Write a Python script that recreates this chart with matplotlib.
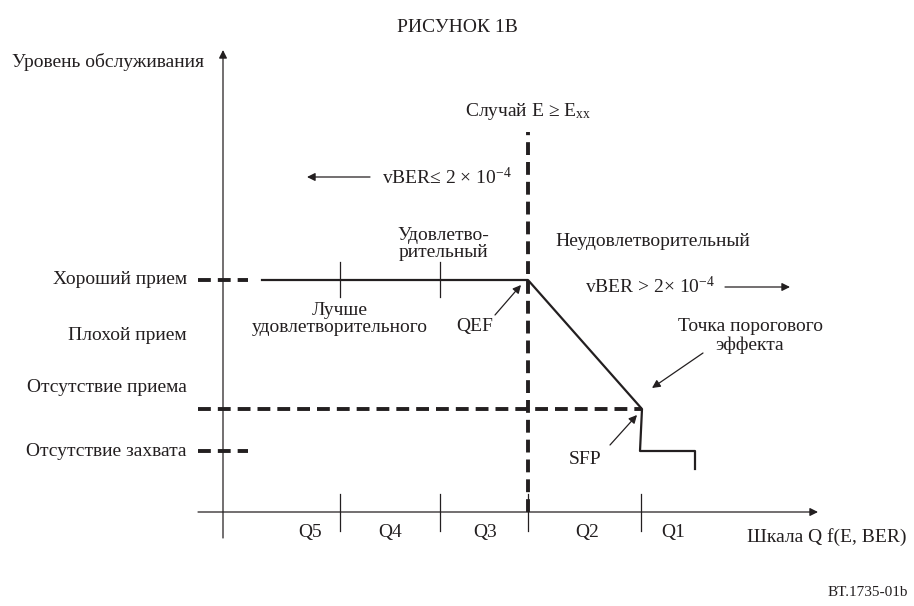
import matplotlib
matplotlib.use("Agg")
import matplotlib.pyplot as plt

plt.rcParams['font.family'] = ['Liberation Serif', 'DejaVu Serif']
plt.rcParams['mathtext.fontset'] = 'custom'
plt.rcParams['mathtext.rm'] = 'Liberation Serif'
plt.rcParams['mathtext.it'] = 'Liberation Serif:italic'

INK = '#231f20'
FS = 14

# ---------------- Data ----------------
# service levels (left labels) and their vertical positions
level_names = ["Хороший прием", "Плохой прием", "Отсутствие приема", "Отсутствие захвата"]
level_y = [232, 177, 124, 61]

# Q scale zones along the horizontal axis
q_names = ["Q5", "Q4", "Q3", "Q2", "Q1"]
q_bounds = [0, 117, 217, 305, 418]
q_label_x = [87, 167, 262, 364, 450]

# service curve: flat at good level, falls to SFP, then step to no-capture
curve_x = [39, 305, 419, 417, 472, 472]
curve_y = [232, 232, 103, 61, 61, 43]

good_y = 232
no_rx_y = 103
no_lock_y = 61
qef_x = 305

# ---------------- Figure ----------------
fig = plt.figure(figsize=(9.14, 6.06), dpi=100)
ax = fig.add_axes([0, 0, 1, 1])
ax.set_xlim(-223, 691)
ax.set_ylim(-94, 512)
ax.axis('off')

arrow = dict(arrowstyle='-|>', color=INK, lw=0.9, mutation_scale=12,
             shrinkA=0, shrinkB=0)

# axes with arrows
ax.annotate("", xy=(0, 462), xytext=(0, -26), arrowprops=arrow)
ax.annotate("", xy=(595, 0), xytext=(-25, 0), arrowprops=arrow)

# Q zone ticks and labels
for b in q_bounds[1:]:
    ax.plot([b, b], [18, -19], color=INK, lw=0.9)
for name, x in zip(q_names, q_label_x):
    ax.text(x, -21, name, fontsize=FS, color=INK, ha='center', va='center')

# dashed reference lines
dash = (0, (3.3, 1.8))
ax.plot([-25, 25], [good_y, good_y], color=INK, lw=2.8, linestyle=dash)
ax.plot([-25, 25], [no_lock_y, no_lock_y], color=INK, lw=2.8, linestyle=dash)
ax.plot([-25, curve_x[2]], [no_rx_y, no_rx_y], color=INK, lw=2.8, linestyle=dash)
ax.plot([qef_x, qef_x], [0, 380], color=INK, lw=2.8, linestyle=dash)

# service curve
ax.plot(curve_x, curve_y, color=INK, lw=1.6)
for b in q_bounds[1:3]:
    ax.plot([b, b], [250, 215], color=INK, lw=0.9)

# left level labels
for name, y in zip(level_names, level_y):
    ax.text(-36, y, name, fontsize=FS, color=INK, ha='right', va='center')

# ---------------- Texts ----------------
ax.text(234, 484, "РИСУНОК 1В", fontsize=FS, color=INK, ha='center', va='center')
ax.text(-211, 450, "Уровень обслуживания", fontsize=FS, color=INK, ha='left', va='center')
ax.text(305, 400, r"Случай E ≥ E$_{\mathregular{xx}}$", fontsize=FS, color=INK,
        ha='center', va='center')

ax.text(159, 335, r"vBER≤ 2 × 10$^{\mathregular{-4}}$", fontsize=FS, color=INK,
        ha='left', va='center')
ax.annotate("", xy=(84, 335), xytext=(147, 335), arrowprops=arrow)

ax.text(220, 268, "Удовлетво-\nрительный", fontsize=FS, color=INK,
        ha='center', va='center', linespacing=1.0)
ax.text(117, 193, "Лучше\nудовлетворительного", fontsize=FS, color=INK,
        ha='center', va='center', linespacing=0.95)
ax.text(332, 270, "Неудовлетворительный", fontsize=FS, color=INK,
        ha='left', va='center')

ax.text(362, 225, r"vBER > 2× 10$^{\mathregular{-4}}$", fontsize=FS, color=INK,
        ha='left', va='center')
ax.annotate("", xy=(567, 225), xytext=(502, 225), arrowprops=arrow)

ax.text(252, 185, "QEF", fontsize=FS, color=INK, ha='center', va='center')
ax.annotate("", xy=(298, 227), xytext=(272, 197), arrowprops=arrow)

ax.text(527, 176, "Точка порогового\nэффекта", fontsize=FS, color=INK,
        ha='center', va='center', linespacing=1.05)
ax.annotate("", xy=(429, 124), xytext=(480, 159), arrowprops=arrow)

ax.text(362, 52, "SFP", fontsize=FS, color=INK, ha='center', va='center')
ax.annotate("", xy=(414, 97), xytext=(387, 67), arrowprops=arrow)

ax.text(524, -25, "Шкала Q f(E, BER)", fontsize=FS, color=INK, ha='left', va='center')
ax.text(685, -80, "BT.1735-01b", fontsize=FS - 3, color=INK, ha='right', va='center')

fig.savefig('out.png', dpi=100)
